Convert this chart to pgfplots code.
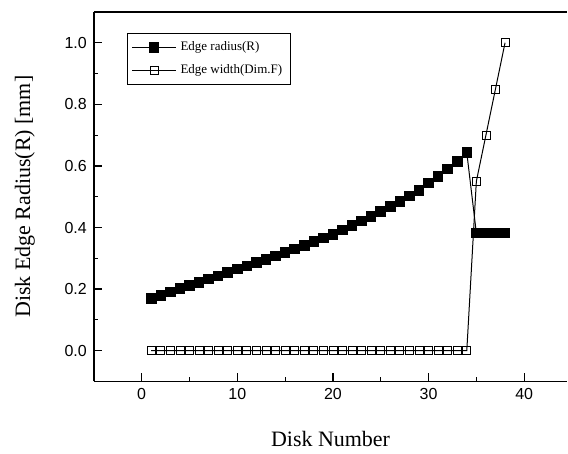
\documentclass[border=0pt]{standalone}
\usepackage{fontspec}
\setmainfont{Liberation Serif}
\setsansfont{Liberation Sans}
\usepackage{pgfplots}
\pgfplotsset{compat=1.18}

% edge radius R per disk
\pgfplotstableread{
x y
1 0.170
2 0.180
3 0.191
4 0.201
5 0.212
6 0.222
7 0.233
8 0.243
9 0.254
10 0.265
11 0.275
12 0.286
13 0.297
14 0.308
15 0.319
16 0.330
17 0.342
18 0.354
19 0.366
20 0.378
21 0.392
22 0.406
23 0.421
24 0.436
25 0.452
26 0.468
27 0.485
28 0.502
29 0.521
30 0.545
31 0.566
32 0.590
33 0.615
34 0.643
35 0.382
36 0.382
37 0.382
38 0.382
}\radius

% edge width Dim.F per disk
\pgfplotstableread{
x y
1 0
2 0
3 0
4 0
5 0
6 0
7 0
8 0
9 0
10 0
11 0
12 0
13 0
14 0
15 0
16 0
17 0
18 0
19 0
20 0
21 0
22 0
23 0
24 0
25 0
26 0
27 0
28 0
29 0
30 0
31 0
32 0
33 0
34 0
35 0.55
36 0.70
37 0.85
38 1.00
}\width

\begin{document}
\begin{tikzpicture}
\begin{axis}[
  width=237pt, height=185pt, scale only axis,
  xmin=-5, xmax=44.5, ymin=-0.1, ymax=1.1,
  axis x line=box, axis y line=left,
  axis line style={-, line width=0.8pt},
  xtick={0,10,...,40}, ytick={0,0.2,...,1.0},
  minor x tick num=1, minor y tick num=1,
  tick align=inside, xtick pos=bottom, ytick pos=left,
  major tick length=4pt, minor tick length=2pt,
  tick style={black, line width=0.6pt},
  ticklabel style={font=\sffamily\fontsize{8}{9.6}\selectfont},
  /pgf/number format/assume math mode=true,
  yticklabel style={/pgf/number format/fixed, /pgf/number format/fixed zerofill, /pgf/number format/precision=1},
  xlabel={Disk Number}, ylabel={Disk Edge Radius(R) [mm]},
  label style={font=\fontsize{11}{13}\selectfont},
  xlabel style={at={(axis description cs:0.5,-0.157)}, anchor=center},
  ylabel style={at={(axis description cs:-0.146,0.5)}, anchor=center},
  legend style={at={(axis description cs:0.07,0.943)}, anchor=north west,
    font=\fontsize{6.5}{7.5}\selectfont, draw=black, line width=0.6pt,
    row sep=1.5pt, inner sep=2pt},
  legend cell align=left,
  legend image code/.code={\draw[mark repeat=2,mark phase=2] plot coordinates {(0pt,0pt)(11pt,0pt)(22pt,0pt)};},
]
\coordinate (sw) at (rel axis cs:0,0);
\coordinate (ne) at (rel axis cs:1,1);
\addplot[black, line width=0.5pt, mark=square*, mark size=2.4pt] table {\radius};
\addlegendentry{Edge radius(R)}
\addplot[black, line width=0.5pt, mark=square, mark options={fill=white, line width=0.4pt}, mark size=2pt] table {\width};
\addlegendentry{Edge width(Dim.F)}
\end{axis}
\path ([xshift=-47pt,yshift=-35pt]sw) rectangle ([yshift=6pt]ne);
\end{tikzpicture}
\end{document}
